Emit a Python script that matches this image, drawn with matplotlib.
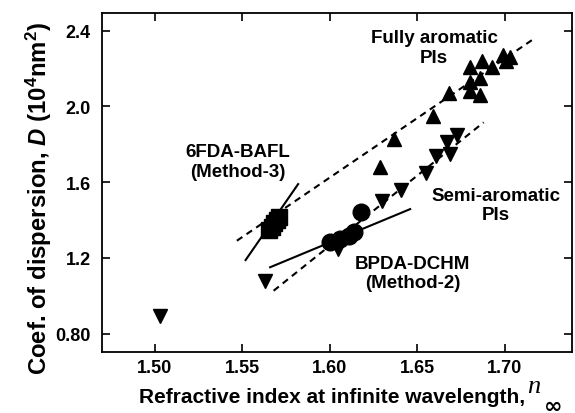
import numpy as np
import matplotlib.pyplot as plt

plt.rcParams['font.family'] = ['Liberation Sans', 'DejaVu Sans']
plt.rcParams['font.weight'] = 'bold'
plt.rcParams['mathtext.fontset'] = 'custom'
plt.rcParams['mathtext.rm'] = 'Liberation Sans:bold'
plt.rcParams['mathtext.it'] = 'Liberation Sans:italic:bold'
plt.rcParams['mathtext.bf'] = 'Liberation Sans:bold'

# Fully aromatic PIs (up triangles)
full_n = [1.629, 1.637, 1.659, 1.668, 1.680, 1.680, 1.680, 1.686, 1.686, 1.687, 1.693, 1.699, 1.703, 1.701]
full_D = [1.68, 1.83, 1.95, 2.07, 2.21, 2.13, 2.08, 2.15, 2.06, 2.24, 2.21, 2.27, 2.26, 2.24]

# Semi-aromatic PIs (down triangles)
semi_n = [1.503, 1.563, 1.605, 1.630, 1.641, 1.655, 1.661, 1.669, 1.667, 1.673]
semi_D = [0.895, 1.080, 1.25, 1.50, 1.56, 1.65, 1.74, 1.75, 1.81, 1.85]

# 6FDA-BAFL (Method-3)
bafl_n = [1.5654, 1.5668, 1.5682, 1.5697, 1.5711]
bafl_D = [1.349, 1.366, 1.383, 1.401, 1.418]

# BPDA-DCHM (Method-2)
dchm_n = [1.600, 1.606, 1.611, 1.614, 1.618]
dchm_D = [1.283, 1.300, 1.315, 1.335, 1.441]

# fit lines (end points)
fit_full_n = [1.547, 1.7165]
fit_full_D = [1.291, 2.356]
fit_semi_n = [1.568, 1.688]
fit_semi_D = [1.027, 1.916]
fit_bafl_n = [1.552, 1.582]
fit_bafl_D = [1.189, 1.590]
fit_dchm_n = [1.566, 1.646]
fit_dchm_D = [1.151, 1.458]

fig = plt.figure(figsize=(5.75, 4.14), dpi=100)
ax = fig.add_axes([0.1769, 0.148, 0.8174, 0.818])

ax.plot(fit_full_n, fit_full_D, color='black', lw=1.5, dashes=(3.2, 2.4))
ax.plot(fit_semi_n, fit_semi_D, color='black', lw=1.5, dashes=(3.2, 2.4))
ax.plot(fit_bafl_n, fit_bafl_D, color='black', lw=1.5)
ax.plot(fit_dchm_n, fit_dchm_D, color='black', lw=1.5)

ax.plot(full_n, full_D, '^', color='black', ms=10, ls='none')
ax.plot(semi_n, semi_D, 'v', color='black', ms=10, ls='none')
ax.plot(bafl_n, bafl_D, 's', color='black', ms=12, ls='none')
ax.plot(dchm_n, dchm_D, 'o', color='black', ms=12, ls='none')

ax.set_xlim(1.4698, 1.7383)
ax.set_ylim(0.705, 2.493)
ax.set_xticks([1.50, 1.55, 1.60, 1.65, 1.70])
ax.set_xticklabels(['1.50', '1.55', '1.60', '1.65', '1.70'])
ax.set_yticks([0.8, 1.2, 1.6, 2.0, 2.4])
ax.set_yticklabels(['0.80', '1.2', '1.6', '2.0', '2.4'])
ax.tick_params(direction='in', length=5.5, width=1.2, top=True, right=True, labelsize=13)
ax.tick_params(axis='y', pad=8)
ax.tick_params(axis='x', pad=5)
for s in ax.spines.values():
    s.set_linewidth(1.3)

ax.set_xlabel('Refractive index at infinite wavelength,', fontsize=15, fontweight='bold',
              labelpad=8, x=0.49)
ax.text(0.905, -0.119, 'n', transform=ax.transAxes, fontsize=19, family='Liberation Serif',
        style='italic', weight='normal', va='baseline')
ax.text(0.940, -0.178, '\u221e', transform=ax.transAxes, fontsize=16, family='DejaVu Sans',
        weight='bold', va='baseline')
ax.set_ylabel(r'Coef. of dispersion, $\mathit{D}$ (10$^{4}$nm$^{2}$)', fontsize=17.2,
              fontweight='bold', labelpad=1, y=0.454)

txt = dict(ha='center', va='center', fontsize=13.5, linespacing=1.2)
ax.text(1.6597, 2.312, 'Fully aromatic\nPIs', **txt)
ax.text(1.5477, 1.709, '6FDA-BAFL\n(Method-3)', **txt)
ax.text(1.6951, 1.479, 'Semi-aromatic\nPIs', **txt)
ax.text(1.6474, 1.120, 'BPDA-DCHM\n(Method-2)', **txt)

fig.savefig('out.png', dpi=100)
